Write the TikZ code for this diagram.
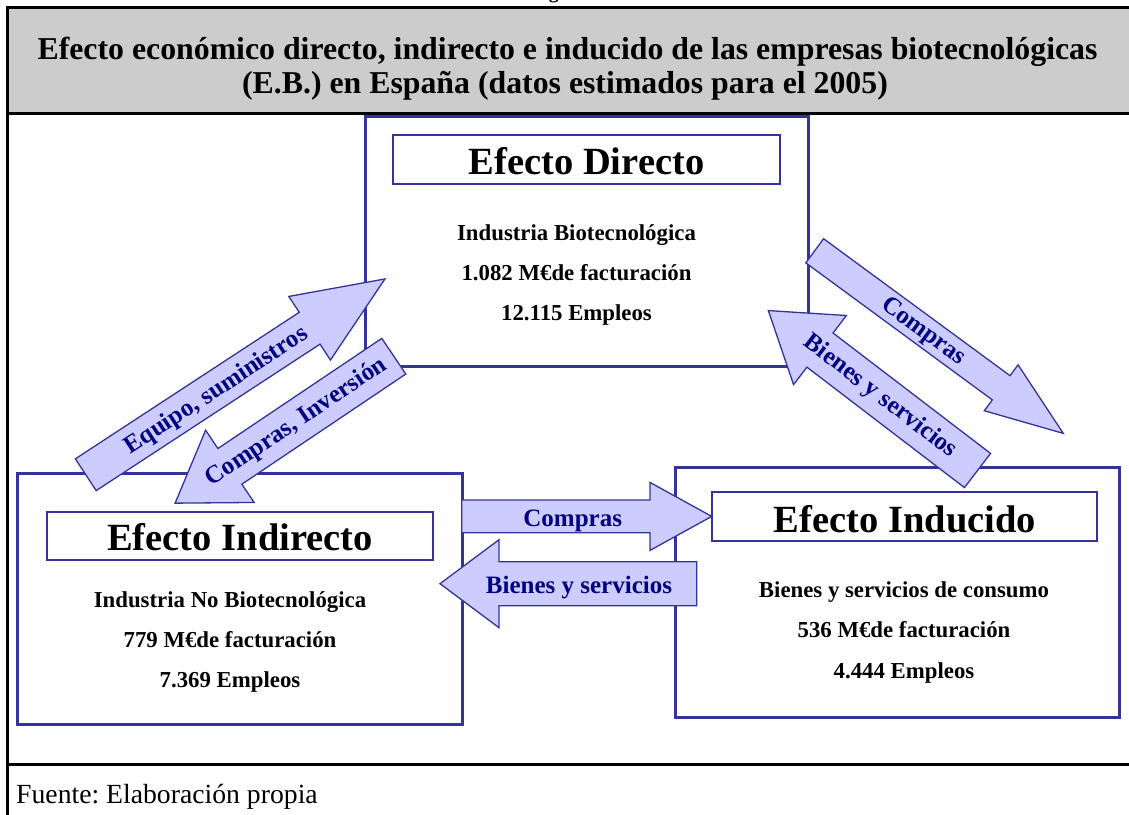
\documentclass[tikz,border=0pt]{standalone}
\usepackage{fontspec}
\setmainfont{Liberation Serif}
\frenchspacing
\definecolor{boxblue}{HTML}{333399}
\definecolor{arrowfill}{HTML}{CCCCFF}
\definecolor{arrowtext}{HTML}{000080}
\definecolor{headgray}{HTML}{CCCCCC}
\tikzset{
  bigbox/.style={draw=boxblue, line width=3pt, inner sep=0pt},
  titlebox/.style={draw=boxblue, line width=1.5pt, inner sep=0pt},
  frameline/.style={draw=black, line width=3pt},
  fatarrow/.style={draw=boxblue, fill=arrowfill, line width=1.3pt, line join=miter},
  arrowlabel/.style={text=arrowtext, font=\bfseries\fontsize{25}{30}\selectfont, inner sep=0pt},
  boxtitle/.style={font=\bfseries\fontsize{38.5}{44}\selectfont, anchor=base, inner sep=0pt},
  dataline/.style={font=\bfseries\fontsize{22.8}{27}\selectfont, anchor=base, inner sep=0pt},
  headtitle/.style={font=\bfseries\fontsize{31.8}{36}\selectfont, anchor=base, inner sep=0pt},
}
% #1 name, #2 tail point, #3 angle, #4 length, #5 shaft width, #6 head width, #7 head length
\newcommand\fatarr[7]{%
  \begin{scope}[shift={(#2)}, rotate=#3]
    \draw[fatarrow] (0,-#5/2) -- ({#4-#7},-#5/2) -- ({#4-#7},-#6/2) -- (#4,0)
      -- ({#4-#7},#6/2) -- ({#4-#7},#5/2) -- (0,#5/2) -- cycle;
    \coordinate (#1) at (#4,0);
  \end{scope}}
\begin{document}
\begin{tikzpicture}[x=1pt,y=1pt]
\useasboundingbox (0,0) rectangle (1129,-814);
\fill[white] (0,0) rectangle (1129,-814);
% header
\node[font=\bfseries\fontsize{20}{24}\selectfont, anchor=base] (fig) at (560,2) {Figura};
\fill[headgray] (7,-7) rectangle (1140,-113);
\node[headtitle] (title1) at (567.5,-59) {Efecto económico directo, indirecto e inducido de las empresas biotecnológicas};
\node[headtitle] (title2) at (565,-93) {(E.B.) en España (datos estimados para el 2005)};
\draw[frameline] (7,-7) -- (1140,-7);
\draw[frameline] (7,-113) -- (1140,-113);
\draw[frameline] (7,-764) -- (1140,-764);
\draw[frameline] (7,-5.5) -- (7,-820);
\node[anchor=base west, font=\fontsize{27.7}{32}\selectfont, inner sep=0pt] (fuente) at (16,-803) {Fuente: Elaboración propia};

% boxes
\node[bigbox, minimum width=443pt, minimum height=250pt] (direct) at (586.5,-241) {};
\node[titlebox, minimum width=387pt, minimum height=49pt] (directT) at (586.5,-159.5) {};
\node[boxtitle] (directH) at (586.5,-174) {Efecto Directo};
\node[dataline] (d1) at (576.5,-240) {Industria Biotecnológica};
\node[dataline] (d2) at (576.5,-280) {1.082 M€de facturación};
\node[dataline] (d3) at (576.5,-320) {12.115 Empleos};

\node[bigbox, minimum width=445pt, minimum height=251pt] (indirect) at (239.5,-598.5) {};
\node[titlebox, minimum width=386pt, minimum height=48pt] (indirectT) at (240,-536) {};
\node[boxtitle] (indirectH) at (240,-550) {Efecto Indirecto};
\node[dataline] (i1) at (230,-607) {Industria No Biotecnológica};
\node[dataline] (i2) at (230,-647) {779 M€de facturación};
\node[dataline] (i3) at (230,-687) {7.369 Empleos};

\node[bigbox, minimum width=444pt, minimum height=250pt] (induced) at (897,-592) {};
\node[titlebox, minimum width=385pt, minimum height=49pt] (inducedT) at (904.5,-516.5) {};
\node[boxtitle] (inducedH) at (905,-532) {Efecto Inducido};
\node[dataline] (u1) at (904,-597) {Bienes y servicios de consumo};
\node[dataline] (u2) at (904,-637) {536 M€de facturación};
\node[dataline] (u3) at (904,-678) {4.444 Empleos};

% arrows
\fatarr{aEq}{85.8,-474.7}{33.2}{357.5}{38}{76}{90}
\node[arrowlabel, rotate=33.2] (lEq) at (216.7,-391) {Equipo, suministros};
\fatarr{aCI}{393.8,-356.2}{213.9}{263.5}{43}{87}{66}
\node[arrowlabel, rotate=33.9] (lCI) at (296.7,-422.5) {Compras, Inversión};
\fatarr{aC2}{814.7,-250.8}{-36.3}{308.4}{30}{57}{77}
\node[arrowlabel, rotate=-36.3] (lC2) at (923.3,-332) {Compras};
\fatarr{aB2}{977.5,-470.5}{142.6}{263.3}{43}{87}{65}
\node[arrowlabel, rotate=-37.4] (lB2) at (880,-396.5) {Bienes y servicios};
\fatarr{aC1}{461.7,-516.4}{0}{250}{32.7}{68}{61.7}
\node[arrowlabel, anchor=base] (lC1) at (572.7,-526) {Compras};
\fatarr{aB1}{696.7,-583.7}{180}{256.7}{44}{88}{59}
\node[arrowlabel, anchor=base] (lB1) at (579,-593) {Bienes y servicios};
\end{tikzpicture}
\end{document}
